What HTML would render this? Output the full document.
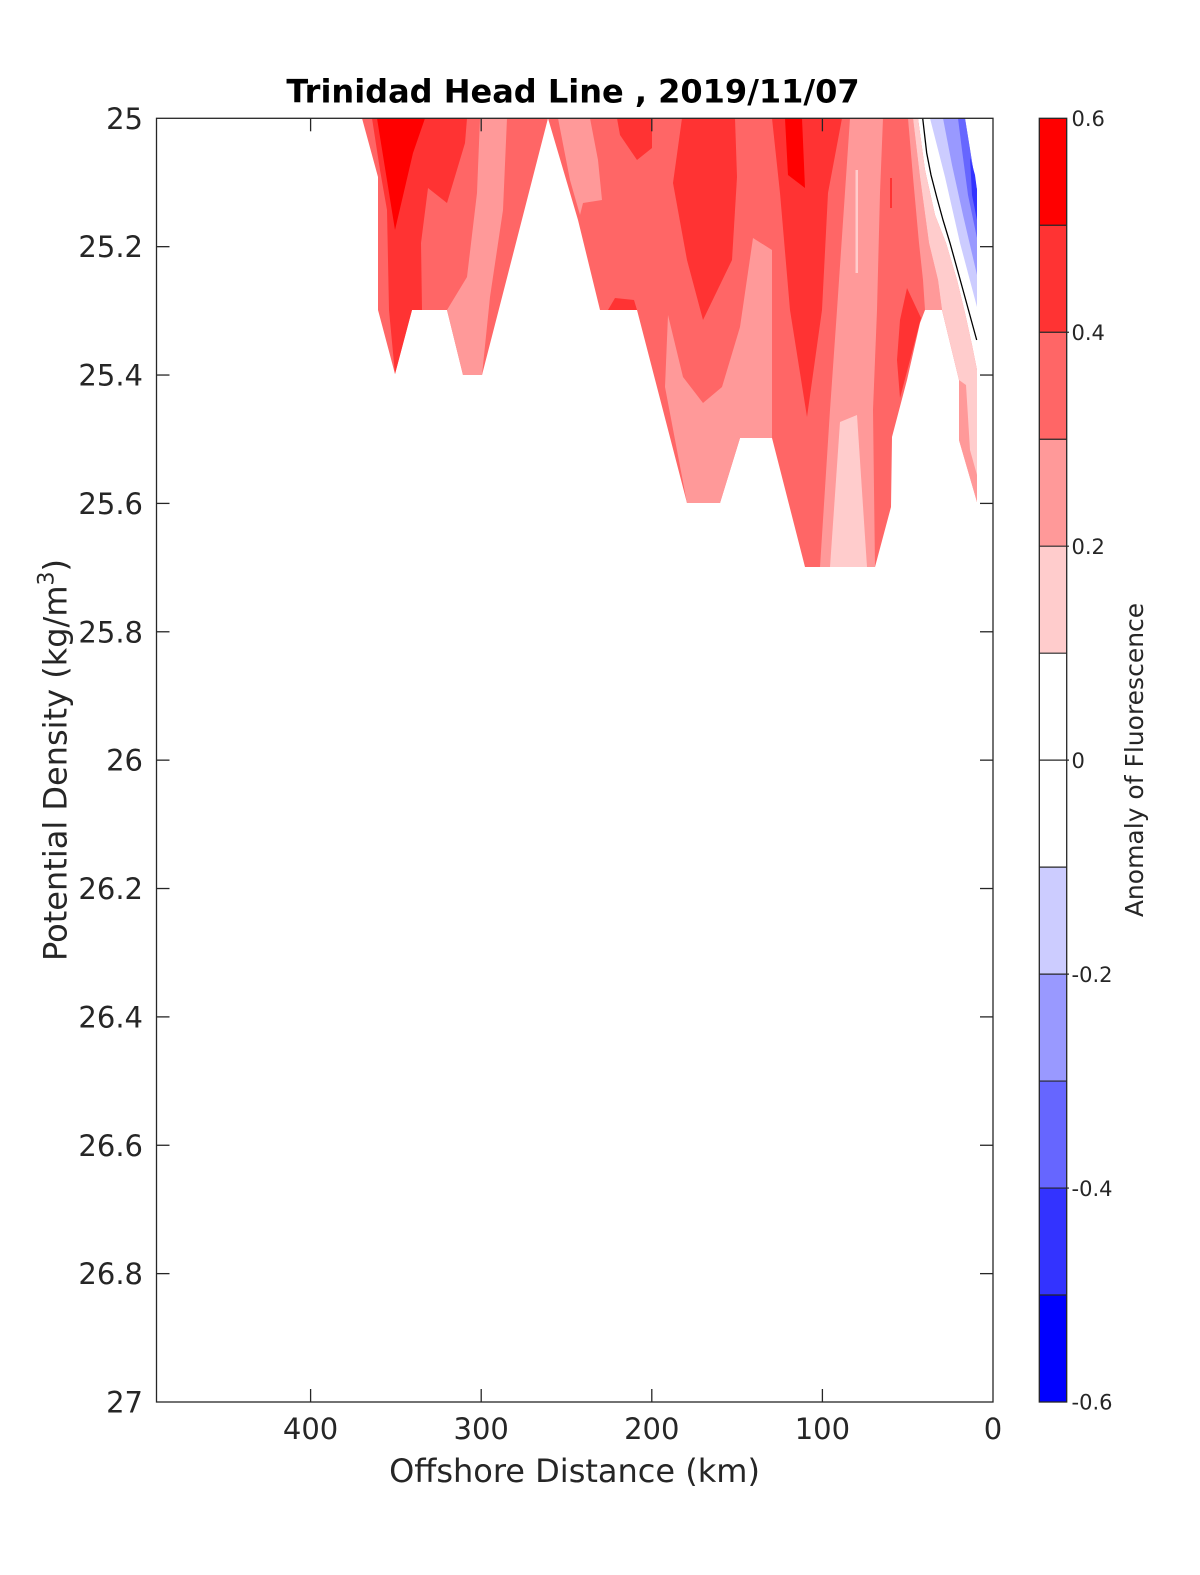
<!DOCTYPE html>
<html><head><meta charset="utf-8"><style>
html,body{margin:0;padding:0;background:#fff;}
svg{display:block;}
text{font-family:"DejaVu Sans","Liberation Sans",sans-serif;fill:#262626;}
</style></head><body>
<svg width="1200" height="1575" viewBox="0 0 1200 1575" xmlns="http://www.w3.org/2000/svg">
<rect x="0" y="0" width="1200" height="1575" fill="#fff"/>
<!-- base red shape -->
<polygon fill="#ff6666" points="362,118.3 918,118.3 925,170 935,215 946,243 957,280 965,313 972,345 977,370 977,502 959,440 959,380 942,310 925,310 920,323 907,380 892,437 891,507 875,567 805,567 772,438 740,438 720,503 687,503 637,310 600,310 578,220 548,118.3 482,375 463,375 447,310 412,310 395,374 378,310 378,177"/>
<!-- left blob -->
<polygon fill="#ff9999" points="480,118.3 507,118.3 503,210 490,297 482,375 463,375 447,310 467,277 477,193"/>
<polygon fill="#ff3333" points="372,118.3 380,170 387,210 389,310 395,374 412,310 422,310 421,243 428,188 447,203 465,143 467,118.3"/>
<polygon fill="#ff0000" points="377,118.3 425,118.3 413,153 395,230"/>
<!-- central blob -->
<polygon fill="#ff9999" points="558,118.3 590,118.3 598,160 602,200 583,203 580,215 570,180"/>
<polygon fill="#ff3333" points="617,118.3 652,118.3 652,148 637,160 620,135"/>
<polygon fill="#ff3333" points="608,310 615,298 634,300 637,310"/>
<polygon fill="#ff3333" points="682,118.3 735,118.3 737,177 732,260 703,320 687,260 673,183"/>
<polygon fill="#ff9999" points="668,315 683,377 703,403 722,387 740,327 753,238 772,250 772,438 740,438 720,503 687,503 665,387"/>
<!-- right-center -->
<polygon fill="#ff3333" points="772,118.3 842,118.3 828,193 822,310 807,417 790,310 780,193"/>
<polygon fill="#ff0000" points="785,118.3 802,118.3 805,188 788,175"/>
<polygon fill="#ff9999" points="850,118.3 883,118.3 880,193 877,310 873,410 875,567 820,567 830,410 837,310"/>
<polygon fill="#ffcccc" points="855.5,170 858,170 858,273 855.5,273"/>
<polygon fill="#ffcccc" points="840,422 857,415 867,567 830,567"/>
<polygon fill="#ff3333" points="890,178 892,178 892,208 890,208"/>
<!-- near-shore -->
<polygon fill="#ff9999" points="908,118.3 913,118.3 920,177 929,243 938,280 942,310 925,310 923,280 919,243 913,177"/>
<polygon fill="#ffcccc" points="913,118.3 918,118.3 925,170 935,215 946,243 957,280 965,313 972,345 977,370 977,502 959,440 959,380 942,310 938,280 929,243 920,177"/>
<polygon fill="#ff9999" points="959,380 966,385 970,450 977,475 977,502 959,440"/>
<polygon fill="#ff3333" points="907,288 921,318 910,360 900,398 897,360 900,320"/>
<!-- blue -->
<polygon fill="#ccccff" points="930,118.3 965,118.3 975,180 977,190 977,307 960,243 945,177"/>
<polygon fill="#9999ff" points="943,118.3 965,118.3 975,180 977,190 977,275 963,215 952,165"/>
<polygon fill="#6666ff" points="958,118.3 965,118.3 975,180 977,190 977,238 968,195 962,150"/>
<polygon fill="#3333ff" points="970,157 975,175 977,190 977,220 972,195"/>
<!-- zero contour -->
<polyline fill="none" stroke="#000" stroke-width="1.3" points="922.7,118.3 926.7,153 931,175 936.7,197 943,220 950,243 963,290 976.7,340"/>

<!-- axes box -->
<rect x="156.5" y="118.3" width="836.5" height="1283.7" fill="none" stroke="#262626" stroke-width="1.3"/>
<g stroke="#262626" stroke-width="1.3">
<line x1="156.5" y1="246.67" x2="169.5" y2="246.67"/><line x1="993" y1="246.67" x2="980" y2="246.67"/>
<line x1="156.5" y1="375.04" x2="169.5" y2="375.04"/><line x1="993" y1="375.04" x2="980" y2="375.04"/>
<line x1="156.5" y1="503.41" x2="169.5" y2="503.41"/><line x1="993" y1="503.41" x2="980" y2="503.41"/>
<line x1="156.5" y1="631.78" x2="169.5" y2="631.78"/><line x1="993" y1="631.78" x2="980" y2="631.78"/>
<line x1="156.5" y1="760.15" x2="169.5" y2="760.15"/><line x1="993" y1="760.15" x2="980" y2="760.15"/>
<line x1="156.5" y1="888.52" x2="169.5" y2="888.52"/><line x1="993" y1="888.52" x2="980" y2="888.52"/>
<line x1="156.5" y1="1016.89" x2="169.5" y2="1016.89"/><line x1="993" y1="1016.89" x2="980" y2="1016.89"/>
<line x1="156.5" y1="1145.26" x2="169.5" y2="1145.26"/><line x1="993" y1="1145.26" x2="980" y2="1145.26"/>
<line x1="156.5" y1="1273.63" x2="169.5" y2="1273.63"/><line x1="993" y1="1273.63" x2="980" y2="1273.63"/>
<line x1="310.6" y1="1402" x2="310.6" y2="1389"/><line x1="310.6" y1="118.3" x2="310.6" y2="131.3"/>
<line x1="481.2" y1="1402" x2="481.2" y2="1389"/><line x1="481.2" y1="118.3" x2="481.2" y2="131.3"/>
<line x1="651.8" y1="1402" x2="651.8" y2="1389"/><line x1="651.8" y1="118.3" x2="651.8" y2="131.3"/>
<line x1="822.4" y1="1402" x2="822.4" y2="1389"/><line x1="822.4" y1="118.3" x2="822.4" y2="131.3"/>
</g>

<!-- y tick labels -->
<g font-size="29" text-anchor="end">
<text x="143" y="128.8">25</text>
<text x="143" y="257.2">25.2</text>
<text x="143" y="385.5">25.4</text>
<text x="143" y="513.9">25.6</text>
<text x="143" y="642.3">25.8</text>
<text x="143" y="770.7">26</text>
<text x="143" y="899">26.2</text>
<text x="143" y="1027.4">26.4</text>
<text x="143" y="1155.8">26.6</text>
<text x="143" y="1284.1">26.8</text>
<text x="143" y="1412.5">27</text>
</g>
<!-- x tick labels -->
<g font-size="29" text-anchor="middle">
<text x="310.6" y="1439">400</text>
<text x="481.2" y="1439">300</text>
<text x="651.8" y="1439">200</text>
<text x="822.4" y="1439">100</text>
<text x="993" y="1439">0</text>
</g>
<text x="574.5" y="1482" font-size="32" text-anchor="middle">Offshore Distance (km)</text>
<text transform="translate(66.5,760) rotate(-90)" font-size="32" text-anchor="middle">Potential Density (kg/m<tspan font-size="22" dy="-13">3</tspan><tspan dy="13">)</tspan></text>
<text x="573" y="102.5" font-size="32" font-weight="bold" text-anchor="middle" style="fill:#000">Trinidad Head Line , 2019/11/07</text>

<!-- colorbar -->
<rect x="1039.3" y="118.3" width="27.4" height="106.975" fill="#ff0000"/>
<rect x="1039.3" y="225.275" width="27.4" height="106.975" fill="#ff3333"/>
<rect x="1039.3" y="332.25" width="27.4" height="106.975" fill="#ff6666"/>
<rect x="1039.3" y="439.225" width="27.4" height="106.975" fill="#ff9999"/>
<rect x="1039.3" y="546.2" width="27.4" height="106.975" fill="#ffcccc"/>
<rect x="1039.3" y="653.175" width="27.4" height="213.95" fill="#ffffff"/>
<rect x="1039.3" y="867.125" width="27.4" height="106.975" fill="#ccccff"/>
<rect x="1039.3" y="974.1" width="27.4" height="106.975" fill="#9999ff"/>
<rect x="1039.3" y="1081.075" width="27.4" height="106.975" fill="#6666ff"/>
<rect x="1039.3" y="1188.05" width="27.4" height="106.975" fill="#3333ff"/>
<rect x="1039.3" y="1295.025" width="27.4" height="106.975" fill="#0000ff"/>
<g stroke="#262626" stroke-width="1.2">
<line x1="1039.3" y1="225.275" x2="1066.7" y2="225.275"/>
<line x1="1039.3" y1="332.25" x2="1069" y2="332.25"/>
<line x1="1039.3" y1="439.225" x2="1066.7" y2="439.225"/>
<line x1="1039.3" y1="546.2" x2="1069" y2="546.2"/>
<line x1="1039.3" y1="653.175" x2="1066.7" y2="653.175"/>
<line x1="1039.3" y1="760.15" x2="1069" y2="760.15"/>
<line x1="1039.3" y1="867.125" x2="1066.7" y2="867.125"/>
<line x1="1039.3" y1="974.1" x2="1069" y2="974.1"/>
<line x1="1039.3" y1="1081.075" x2="1066.7" y2="1081.075"/>
<line x1="1039.3" y1="1188.05" x2="1069" y2="1188.05"/>
<line x1="1039.3" y1="1295.025" x2="1066.7" y2="1295.025"/>
</g>
<rect x="1039.3" y="118.3" width="27.4" height="1283.7" fill="none" stroke="#262626" stroke-width="1.3"/>
<g font-size="21">
<text x="1071.5" y="126">0.6</text>
<text x="1071.5" y="340">0.4</text>
<text x="1071.5" y="554">0.2</text>
<text x="1071.5" y="768">0</text>
<text x="1071.5" y="982">-0.2</text>
<text x="1071.5" y="1196">-0.4</text>
<text x="1071.5" y="1409.5">-0.6</text>
</g>
<text transform="translate(1143,760) rotate(-90)" font-size="25" text-anchor="middle">Anomaly of Fluorescence</text>
</svg>
</body></html>
